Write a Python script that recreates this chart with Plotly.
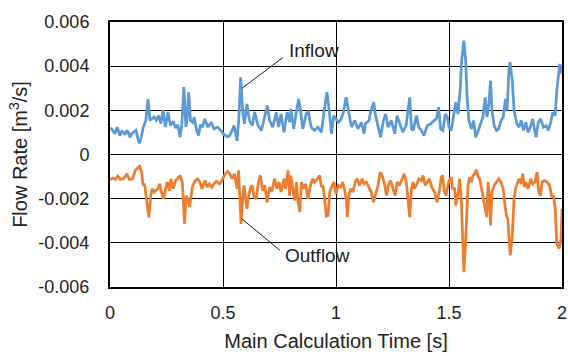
import plotly.graph_objects as go

# ---- data (time [s], flow rate [m^3/s]) ----
inflow_t = [0.000, 0.007, 0.015, 0.022, 0.032, 0.044, 0.052, 0.059, 0.067, 0.074, 0.081, 0.088, 0.096, 0.103,
            0.115, 0.124, 0.130, 0.140, 0.147, 0.159, 0.168, 0.177, 0.185, 0.195, 0.205, 0.215, 0.225, 0.235,
            0.245, 0.257, 0.267, 0.280, 0.290, 0.300, 0.310, 0.318, 0.327, 0.336, 0.341, 0.348, 0.356, 0.365,
            0.373, 0.383, 0.392, 0.400, 0.410, 0.419, 0.434, 0.448, 0.460, 0.475, 0.490, 0.505, 0.520, 0.530,
            0.540, 0.549, 0.562, 0.570, 0.578, 0.588, 0.595, 0.606, 0.617, 0.630, 0.640, 0.655, 0.670, 0.685,
            0.696, 0.706, 0.720, 0.736, 0.746, 0.757, 0.770, 0.784, 0.795, 0.800, 0.813, 0.823, 0.835, 0.843,
            0.853, 0.868, 0.878, 0.890, 0.905, 0.920, 0.935, 0.950, 0.960, 0.970, 0.980, 0.990, 1.000, 1.010,
            1.020, 1.033, 1.045, 1.057, 1.068, 1.083, 1.097, 1.112, 1.124, 1.130, 1.146, 1.153, 1.167, 1.175,
            1.186, 1.197, 1.210, 1.220, 1.230, 1.245, 1.260, 1.270, 1.280, 1.296, 1.310, 1.320, 1.326, 1.334,
            1.341, 1.356, 1.366, 1.378, 1.389, 1.404, 1.419, 1.434, 1.444, 1.454, 1.463, 1.473, 1.484, 1.493,
            1.500, 1.510, 1.520, 1.530, 1.540, 1.549, 1.556, 1.566, 1.574, 1.580, 1.588, 1.599, 1.609, 1.618,
            1.627, 1.640, 1.650, 1.660, 1.668, 1.676, 1.684, 1.690, 1.700, 1.710, 1.720, 1.730, 1.740, 1.750,
            1.757, 1.765, 1.770, 1.780, 1.788, 1.800, 1.810, 1.820, 1.830, 1.840, 1.850, 1.860, 1.870, 1.885,
            1.895, 1.906, 1.918, 1.930, 1.940, 1.950, 1.960, 1.970, 1.977, 1.990, 2.000]
inflow_q = [0.00120, 0.00116, 0.00105, 0.00094, 0.00124, 0.00086, 0.00105, 0.00101, 0.00090, 0.00109, 0.00100,
            0.00078, 0.00095, 0.00101, 0.00109, 0.00070, 0.00050, 0.00086, 0.00124, 0.00154, 0.00250, 0.00154,
            0.00160, 0.00170, 0.00155, 0.00176, 0.00140, 0.00200, 0.00124, 0.00192, 0.00131, 0.00150, 0.00120,
            0.00135, 0.00078, 0.00140, 0.00305, 0.00124, 0.00160, 0.00282, 0.00154, 0.00145, 0.00169, 0.00110,
            0.00086, 0.00135, 0.00125, 0.00161, 0.00124, 0.00146, 0.00116, 0.00124, 0.00109, 0.00090, 0.00080,
            0.00086, 0.00109, 0.00131, 0.00062, 0.00160, 0.00350, 0.00184, 0.00139, 0.00229, 0.00154, 0.00131,
            0.00192, 0.00131, 0.00109, 0.00169, 0.00222, 0.00154, 0.00124, 0.00192, 0.00124, 0.00184, 0.00101,
            0.00192, 0.00146, 0.00207, 0.00116, 0.00184, 0.00252, 0.00199, 0.00116, 0.00184, 0.00192, 0.00124,
            0.00109, 0.00124, 0.00101, 0.00214, 0.00282, 0.00199, 0.00094, 0.00176, 0.00161, 0.00146, 0.00154,
            0.00192, 0.00259, 0.00184, 0.00124, 0.00154, 0.00116, 0.00146, 0.00094, 0.00139, 0.00154, 0.00192,
            0.00237, 0.00176, 0.00124, 0.00078, 0.00154, 0.00184, 0.00124, 0.00154, 0.00094, 0.00176, 0.00146,
            0.00101, 0.00131, 0.00199, 0.00259, 0.00116, 0.00109, 0.00176, 0.00124, 0.00109, 0.00086, 0.00131,
            0.00139, 0.00154, 0.00161, 0.00214, 0.00116, 0.00109, 0.00184, 0.00169, 0.00124, 0.00109, 0.00184,
            0.00237, 0.00184, 0.00290, 0.00425, 0.00516, 0.00425, 0.00259, 0.00154, 0.00116, 0.00154, 0.00078,
            0.00101, 0.00146, 0.00169, 0.00259, 0.00169, 0.00229, 0.00335, 0.00199, 0.00131, 0.00109, 0.00116,
            0.00154, 0.00169, 0.00252, 0.00199, 0.00380, 0.00418, 0.00335, 0.00199, 0.00139, 0.00124, 0.00154,
            0.00109, 0.00146, 0.00101, 0.00124, 0.00161, 0.00078, 0.00146, 0.00161, 0.00124, 0.00131, 0.00109,
            0.00146, 0.00192, 0.00176, 0.00290, 0.00410, 0.00365]

outflow_t = [0.000, 0.013, 0.024, 0.034, 0.046, 0.060, 0.075, 0.085, 0.100, 0.112, 0.131, 0.140, 0.146, 0.153,
             0.160, 0.168, 0.172, 0.180, 0.187, 0.195, 0.205, 0.212, 0.220, 0.227, 0.237, 0.245, 0.253, 0.264,
             0.270, 0.280, 0.290, 0.300, 0.310, 0.320, 0.325, 0.330, 0.337, 0.344, 0.352, 0.360, 0.366, 0.377,
             0.388, 0.398, 0.407, 0.420, 0.430, 0.440, 0.450, 0.460, 0.470, 0.485, 0.495, 0.510, 0.520, 0.530,
             0.540, 0.550, 0.557, 0.563, 0.569, 0.575, 0.580, 0.588, 0.593, 0.600, 0.606, 0.614, 0.622, 0.630,
             0.637, 0.647, 0.657, 0.665, 0.675, 0.685, 0.695, 0.706, 0.716, 0.728, 0.739, 0.748, 0.757, 0.770,
             0.777, 0.788, 0.795, 0.800, 0.810, 0.817, 0.825, 0.830, 0.840, 0.847, 0.857, 0.866, 0.876, 0.887,
             0.896, 0.905, 0.917, 0.928, 0.935, 0.942, 0.950, 0.957, 0.965, 0.972, 0.980, 0.990, 1.000, 1.010,
             1.020, 1.030, 1.040, 1.047, 1.050, 1.057, 1.065, 1.075, 1.085, 1.094, 1.105, 1.115, 1.124, 1.134,
             1.145, 1.156, 1.166, 1.175, 1.186, 1.195, 1.204, 1.213, 1.223, 1.233, 1.242, 1.252, 1.262, 1.270,
             1.280, 1.290, 1.302, 1.312, 1.319, 1.326, 1.334, 1.341, 1.348, 1.358, 1.367, 1.378, 1.385, 1.395,
             1.404, 1.413, 1.424, 1.436, 1.447, 1.458, 1.466, 1.472, 1.480, 1.487, 1.494, 1.500, 1.510, 1.516,
             1.525, 1.530, 1.540, 1.547, 1.555, 1.560, 1.566, 1.572, 1.578, 1.584, 1.591, 1.599, 1.606, 1.615,
             1.620, 1.630, 1.636, 1.644, 1.650, 1.660, 1.667, 1.673, 1.680, 1.684, 1.690, 1.700, 1.710, 1.720,
             1.730, 1.740, 1.746, 1.754, 1.760, 1.765, 1.771, 1.780, 1.787, 1.794, 1.800, 1.810, 1.820, 1.826,
             1.834, 1.840, 1.850, 1.862, 1.870, 1.880, 1.890, 1.897, 1.905, 1.912, 1.922, 1.933, 1.945, 1.955,
             1.962, 1.970, 1.977, 1.987, 1.996, 2.000]
outflow_q = [-0.00113, -0.00107, -0.00113, -0.00098, -0.00113, -0.00110, -0.00087, -0.00113, -0.00110, -0.00072,
             -0.00053, -0.00080, -0.00140, -0.00133, -0.00193, -0.00246, -0.00284, -0.00186, -0.00155, -0.00170,
             -0.00163, -0.00155, -0.00133, -0.00170, -0.00201, -0.00155, -0.00125, -0.00163, -0.00110, -0.00155,
             -0.00118, -0.00110, -0.00095, -0.00125, -0.00201, -0.00314, -0.00186, -0.00201, -0.00238, -0.00170,
             -0.00140, -0.00118, -0.00110, -0.00125, -0.00155, -0.00118, -0.00148, -0.00133, -0.00148, -0.00133,
             -0.00122, -0.00133, -0.00118, -0.00087, -0.00077, -0.00087, -0.00110, -0.00087, -0.00125, -0.00155,
             -0.00072, -0.00231, -0.00314, -0.00186, -0.00140, -0.00201, -0.00246, -0.00186, -0.00148, -0.00140,
             -0.00193, -0.00201, -0.00125, -0.00095, -0.00163, -0.00140, -0.00216, -0.00148, -0.00170, -0.00110,
             -0.00155, -0.00125, -0.00170, -0.00110, -0.00155, -0.00072, -0.00186, -0.00095, -0.00155, -0.00208,
             -0.00125, -0.00201, -0.00261, -0.00125, -0.00155, -0.00133, -0.00201, -0.00140, -0.00110, -0.00125,
             -0.00110, -0.00095, -0.00148, -0.00140, -0.00201, -0.00279, -0.00276, -0.00170, -0.00148, -0.00125,
             -0.00178, -0.00140, -0.00148, -0.00125, -0.00170, -0.00216, -0.00284, -0.00186, -0.00155, -0.00170,
             -0.00125, -0.00110, -0.00140, -0.00110, -0.00133, -0.00125, -0.00148, -0.00170, -0.00216, -0.00178,
             -0.00140, -0.00080, -0.00095, -0.00125, -0.00186, -0.00133, -0.00118, -0.00155, -0.00186, -0.00125,
             -0.00140, -0.00118, -0.00087, -0.00133, -0.00201, -0.00284, -0.00155, -0.00125, -0.00155, -0.00133,
             -0.00110, -0.00118, -0.00095, -0.00140, -0.00125, -0.00110, -0.00148, -0.00170, -0.00216, -0.00163,
             -0.00103, -0.00095, -0.00170, -0.00186, -0.00148, -0.00118, -0.00103, -0.00155, -0.00155, -0.00231,
             -0.00178, -0.00110, -0.00216, -0.00382, -0.00533, -0.00427, -0.00261, -0.00140, -0.00103, -0.00125,
             -0.00095, -0.00087, -0.00068, -0.00103, -0.00110, -0.00155, -0.00170, -0.00231, -0.00284, -0.00125,
             -0.00216, -0.00321, -0.00170, -0.00140, -0.00125, -0.00110, -0.00125, -0.00155, -0.00216, -0.00276,
             -0.00291, -0.00397, -0.00457, -0.00367, -0.00216, -0.00155, -0.00140, -0.00110, -0.00133, -0.00087,
             -0.00148, -0.00125, -0.00155, -0.00110, -0.00133, -0.00125, -0.00080, -0.00170, -0.00186, -0.00125,
             -0.00118, -0.00125, -0.00140, -0.00193, -0.00186, -0.00246, -0.00404, -0.00427, -0.00382, -0.00246]

x_ticks = [0, 0.5, 1, 1.5, 2]
x_tick_labels = ["0", "0.5", "1", "1.5", "2"]
y_ticks = [-0.006, -0.004, -0.002, 0, 0.002, 0.004, 0.006]
y_tick_labels = ["-0.006", "-0.004", "-0.002", "0", "0.002", "0.004", "0.006"]

FONT = "Liberation Sans, Arial, sans-serif"
BLUE = "#5B9BD5"
ORANGE = "#ED7D31"

fig = go.Figure()
fig.add_trace(go.Scatter(x=inflow_t, y=inflow_q, mode="lines", name="Inflow",
                         line=dict(color=BLUE, width=2.75)))
fig.add_trace(go.Scatter(x=outflow_t, y=outflow_q, mode="lines", name="Outflow",
                         line=dict(color=ORANGE, width=2.75)))

# leader lines + labels
fig.add_shape(type="line", x0=0.583, y0=0.00299, x1=0.765, y1=0.00439,
              line=dict(color="#222222", width=1))
fig.add_shape(type="line", x0=0.583, y0=-0.00291, x1=0.752, y1=-0.00434,
              line=dict(color="#222222", width=1))
fig.add_annotation(x=0.782, y=0.0047, text="Inflow", showarrow=False, xanchor="left",
                   yanchor="middle", font=dict(family=FONT, size=19, color="#222222"))
fig.add_annotation(x=0.767, y=-0.00457, text="Outflow", showarrow=False, xanchor="left",
                   yanchor="middle", font=dict(family=FONT, size=19, color="#222222"))

fig.update_layout(
    width=568, height=356,
    margin=dict(l=110, r=6, t=22, b=69, autoexpand=False),
    paper_bgcolor="white", plot_bgcolor="white",
    showlegend=False,
    font=dict(family=FONT, color="#222222"),
    xaxis=dict(range=[0, 2], tickvals=x_ticks, ticktext=x_tick_labels, automargin=False,
               showgrid=True, gridcolor="black", gridwidth=1, zeroline=False,
               showline=True, linecolor="black", linewidth=2, mirror=True,
               ticks="", ticklabelstandoff=8, tickfont=dict(size=18),
               title=dict(text="Main Calculation Time [s]", font=dict(size=20), standoff=12)),
    yaxis=dict(range=[-0.006, 0.006], tickvals=y_ticks, ticktext=y_tick_labels, automargin=False,
               showgrid=True, gridcolor="black", gridwidth=1, zeroline=False,
               showline=True, linecolor="black", linewidth=2, mirror=True,
               ticks="", ticklabelstandoff=15, tickfont=dict(size=18),
               title=dict(text="Flow Rate [m<sup>3</sup>/s]", font=dict(size=20), standoff=5)),
)

fig.write_html("out.html", config={"displayModeBar": False},
               post_script="document.body.style.margin='0';document.body.style.overflow='hidden';")
